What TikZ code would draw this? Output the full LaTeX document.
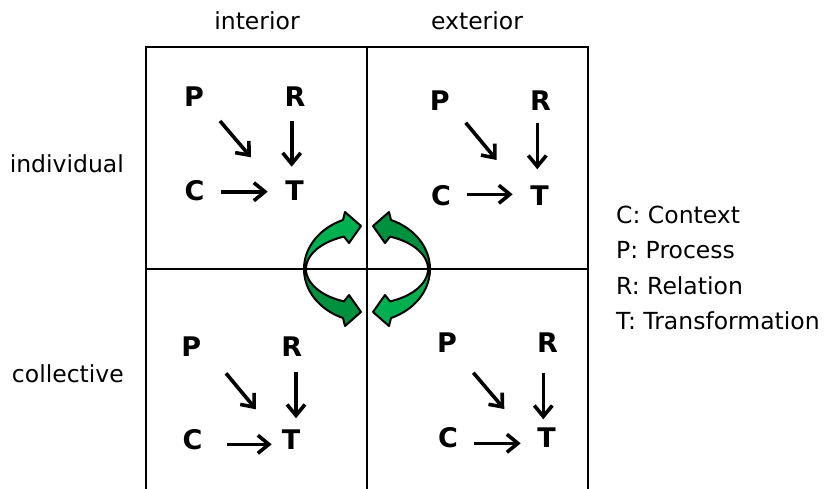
\documentclass[tikz,border=0pt]{standalone}
\usepackage{fontspec}
\setmainfont{DejaVu Sans}
\usetikzlibrary{arrows.meta}
\definecolor{lightgreen}{HTML}{00B050}
\definecolor{darkgreen}{HTML}{00913F}

% one curved ribbon arrow around the centre of the grid;
% #1,#2 mirror it into the wanted quadrant, #3 is its fill
\newcommand\greenturn[3]{%
  \begin{scope}[shift={(367,269)}, x=1pt, y=1pt, xscale=#1, yscale=#2]
    \filldraw[turn, fill=#3]
      plot[domain=180:112.4, samples=30] ({63*cos(\x)},{53*sin(\x)})
      -- (-22,57) -- (-6,43) -- (-18,26)
      -- plot[domain=112.2:180, samples=30] ({61*cos(\x)},{35*sin(\x)})
      -- cycle;
  \end{scope}}

\begin{document}
\begin{tikzpicture}[x=1pt, y=-1pt,
  frame/.style={line width=2.4pt},
  letter/.style={font=\fontsize{27}{27}\selectfont\bfseries, inner sep=0pt},
  caption/.style={font=\fontsize{23.5}{27}\selectfont, inner sep=0pt},
  link/.style={line width=3.6pt, -{Straight Barb[length=11pt,width=18pt]}},
  turn/.style={draw=black, line width=2pt, line join=round}]

\useasboundingbox (0,0) rectangle (828,488);
\fill[white] (0,0) rectangle (828,488);

% grid
\draw[frame] (146,490) -- (146,47) -- (588,47) -- (588,490);
\draw[frame] (367,47) -- (367,490);
\draw[frame] (146,269) -- (588,269);

% axis captions
\node[caption] (interior) at (257,21) {interior};
\node[caption] (exterior) at (477,21) {exterior};
\node[caption, anchor=base east] (individual) at (124,172.3) {individual};
\node[caption, anchor=base east] (collective) at (124,382.3) {collective};

% legend
\node[caption, anchor=base west] (lc) at (616,223)   {C: Context};
\node[caption, anchor=base west] (lp) at (616,258.5) {P: Process};
\node[caption, anchor=base west] (lr) at (616,294)   {R: Relation};
\node[caption, anchor=base west] (lt) at (616,329.5) {T: Transformation};

% interior / individual
\node[letter] (p1) at (194,96.7)  {P};
\node[letter] (r1) at (295,96.7)  {R};
\node[letter] (c1) at (194.5,191) {C};
\node[letter] (t1) at (294.5,191) {T};
\draw[link] ([shift={(26,24.3)}]p1.center) -- ([shift={(-43.5,-33.7)}]t1.center);
\draw[link] ([shift={(-3.3,24.3)}]r1.center) -- ([shift={(-2.8,-24.3)}]t1.center);
\draw[link] ([shift={(26.5,0.7)}]c1.center) -- ([shift={(-26.8,0.7)}]t1.center);

% exterior / individual
\node[letter] (p2) at (439.7,101) {P};
\node[letter] (r2) at (540.5,101) {R};
\node[letter] (c2) at (441,196)   {C};
\node[letter] (t2) at (539.7,196) {T};
\draw[link] ([shift={(26,21.7)}]p2.center) -- ([shift={(-43,-36)}]t2.center);
\draw[link] ([shift={(-3.2,21.7)}]r2.center) -- ([shift={(-2.4,-26.7)}]t2.center);
\draw[link] ([shift={(25.7,-1.7)}]c2.center) -- ([shift={(-27,-1.7)}]t2.center);

% interior / collective
\node[letter] (p3) at (191.3,347)   {P};
\node[letter] (r3) at (291.7,347)   {R};
\node[letter] (c3) at (192.5,439.5) {C};
\node[letter] (t3) at (291.2,439.5) {T};
\draw[link] ([shift={(34.7,26.3)}]p3.center) -- ([shift={(-35.2,-30.2)}]t3.center);
\draw[link] ([shift={(4.3,25.3)}]r3.center) -- ([shift={(4.8,-21.2)}]t3.center);
\draw[link] ([shift={(34.2,4.8)}]c3.center) -- ([shift={(-19.5,4.8)}]t3.center);

% exterior / collective
\node[letter] (p4) at (447,343)     {P};
\node[letter] (r4) at (547.5,343)   {R};
\node[letter] (c4) at (448,437.5)   {C};
\node[letter] (t4) at (546.7,437.5) {T};
\draw[link] ([shift={(26.3,29.7)}]p4.center) -- ([shift={(-42.4,-28.5)}]t4.center);
\draw[link] ([shift={(-4.2,29.7)}]r4.center) -- ([shift={(-3.4,-18.2)}]t4.center);
\draw[link] ([shift={(26,5.8)}]c4.center) -- ([shift={(-26,5.8)}]t4.center);

% circulating arrows
\greenturn{1}{1}{lightgreen}
\greenturn{-1}{1}{darkgreen}
\greenturn{1}{-1}{darkgreen}
\greenturn{-1}{-1}{lightgreen}

\end{tikzpicture}
\end{document}
